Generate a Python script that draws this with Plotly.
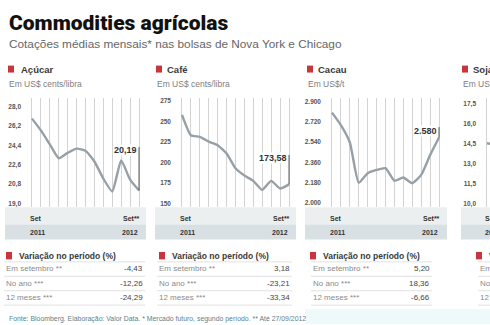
import plotly.graph_objects as go

# ---------------- data ----------------
months = list(range(13))  # Set/2011 ... Set/2012
month_start = "Set"
month_end = "Set**"
year_start = "2011"
year_end = "2012"

acucar = [26.9, 25.8, 24.5, 23.2, 23.7, 24.1, 23.9, 22.9, 21.3, 20.1, 23.0, 21.2, 20.19]
cafe = [258.0, 233.3, 231.3, 225.5, 221.2, 211.2, 193.1, 184.2, 177.8, 166.9, 177.8, 168.5, 173.58]
cacau = [2800, 2689, 2537, 2180, 2265, 2294, 2309, 2198, 2227, 2177, 2250, 2425, 2580]
soja = [14.5, 14.4]

titles = ["Açúcar", "Café", "Cacau", "Soja"]
units = ["Em US$ cents/libra", "Em US$ cents/libra", "Em US$/t", "Em US$/bushel"]

ytick_acucar = [19.0, 20.8, 22.6, 24.4, 26.2, 28.0]
ytick_cafe = [150, 175, 200, 225, 250, 275]
ytick_cacau = [2000, 2180, 2360, 2540, 2720, 2900]
ytick_soja = [10.0, 11.5, 13.0, 14.5, 16.0, 17.5]
ytext_acucar = ["19,0", "20,8", "22,6", "24,4", "26,2", "28,0"]
ytext_cafe = ["150", "175", "200", "225", "250", "275"]
ytext_cacau = ["2.000", "2.180", "2.360", "2.540", "2.720", "2.900"]
ytext_soja = ["10,0", "11,5", "13,0", "14,5", "16,0", "17,5"]

end_labels = ["20,19", "173,58", "2.580"]

var_title = "Variação no período (%)"
var_rows = ["Em setembro **", "No ano ***", "12 meses ***"]
var_acucar = ["-4,43", "-12,26", "-24,29"]
var_cafe = ["3,18", "-23,21", "-33,34"]
var_cacau = ["5,20", "18,36", "-6,66"]

title = "Commodities agrícolas"
subtitle = "Cotações médias mensais* nas bolsas de Nova York e Chicago"
footer = ("Fonte: Bloomberg. Elaboração: Valor Data. * Mercado futuro, segundo período. "
          "** Até 27/09/2012")

# ---------------- layout helpers ----------------
W, H = 490, 325
FONT = "Liberation Sans"
RED = "#c8363d"


def fx(p):
    return p / W


def fy(p):
    return 1 - p / H


series = [acucar, cafe, cacau, soja]
yticks = [ytick_acucar, ytick_cafe, ytick_cacau, ytick_soja]
ytexts = [ytext_acucar, ytext_cafe, ytext_cacau, ytext_soja]
yranges = [[18.675, 28.79], [146.4, 278.0], [1969, 2926], [9.74, 17.87]]
label_y = [24.0, 205.5, 2637]
leader_top = [24.24, 209.2, 2672]

fig = go.Figure()
layout = {}
shapes = []
annotations = []

plot_top, plot_bot = 98, 207
for k in range(4):
    ax = "" if k == 0 else str(k + 1)
    off = [0, 150, 300, 455][k]
    x0, x1 = 26 + off, 145 + off
    xr = [-0.67, 12.67]
    if x1 > W:
        xr = [-0.67, -0.67 + (W - x0) * (13.34 / 119)]
        x1 = W
    fig.add_trace(go.Scatter(
        x=months[:len(series[k])], y=series[k], mode="lines",
        line=dict(color="#96a0a6", width=2.4, shape="spline", smoothing=0.5),
        xaxis="x" + ax, yaxis="y" + ax, hoverinfo="skip", showlegend=False))
    layout["xaxis" + ax] = dict(
        domain=[fx(x0), fx(x1)], range=xr, tickvals=months, showticklabels=False,
        showgrid=True, gridcolor="#d3d3d3", gridwidth=1, zeroline=False,
        showline=False, ticks="", anchor="y" + ax, fixedrange=True)
    layout["yaxis" + ax] = dict(
        domain=[fy(plot_bot), fy(plot_top)], range=yranges[k],
        tickvals=yticks[k], ticktext=ytexts[k], showgrid=False, zeroline=False,
        showline=False, ticks="", ticklabelstandoff=4,
        tickfont=dict(size=6.5, color="#555", family=FONT, weight="bold"),
        anchor="x" + ax, fixedrange=True)

    # red square + panel title + unit
    sq = [8, 156, 307, 462][k]
    shapes.append(dict(type="rect", xref="paper", yref="paper",
                       x0=fx(sq), x1=fx(sq + 6), y0=fy(72), y1=fy(65),
                       fillcolor=RED, line=dict(width=0), layer="above"))
    annotations.append(dict(text=titles[k], xref="paper", yref="paper",
                            x=fx([19, 165, 316, 471][k]), y=fy(68.5),
                            xanchor="left", yanchor="middle", showarrow=False,
                            font=dict(size=9.5, color="#3a3a3a", family=FONT, weight="bold")))
    annotations.append(dict(text=units[k], xref="paper", yref="paper",
                            x=fx(sq - 1), y=fy(84), xanchor="left", yanchor="middle",
                            showarrow=False,
                            font=dict(size=8.5, color="#808080", family=FONT)))

    # bottom bands with month/year
    bx0, bx1 = [(5, 146), (155, 296), (305, 447), (461, 495)][k]
    shapes.append(dict(type="rect", xref="paper", yref="paper",
                       x0=fx(bx0), x1=fx(bx1), y0=fy(225), y1=fy(207.5),
                       fillcolor="#eceff0", line=dict(width=0), layer="below"))
    shapes.append(dict(type="rect", xref="paper", yref="paper",
                       x0=fx(bx0), x1=fx(bx1), y0=fy(240), y1=fy(225),
                       fillcolor="#d8e0e3", line=dict(width=0), layer="below"))
    bfont = dict(size=7, color="#333", family=FONT, weight="bold")
    annotations.append(dict(text=month_start, xref="x" + ax, yref="paper",
                            x=0, xshift=-4, y=fy(218.5), xanchor="left", yanchor="middle",
                            showarrow=False, font=bfont))
    annotations.append(dict(text=year_start, xref="x" + ax, yref="paper",
                            x=0, xshift=-4, y=fy(232.5), xanchor="left", yanchor="middle",
                            showarrow=False, font=bfont))
    if k < 3:
        annotations.append(dict(text=month_end, xref="x" + ax, yref="paper",
                                x=12, xshift=3, y=fy(218.5), xanchor="right",
                                yanchor="middle", showarrow=False, font=bfont))
        annotations.append(dict(text=year_end, xref="x" + ax, yref="paper",
                                x=12, xshift=1, y=fy(232.5), xanchor="right",
                                yanchor="middle", showarrow=False, font=bfont))
        # end value label with leader line
        shapes.append(dict(type="line", xref="x" + ax, yref="y" + ax,
                           x0=12, x1=12, y0=leader_top[k], y1=series[k][-1],
                           line=dict(color="#555", width=1)))
        annotations.append(dict(text=end_labels[k], xref="x" + ax, yref="y" + ax,
                                x=12, xshift=-1, y=label_y[k], xanchor="right",
                                yanchor="middle", showarrow=False, bgcolor="white",
                                borderpad=0,
                                font=dict(size=9, color="#333", family=FONT, weight="bold")))

    # variation table
    tsq = [6, 159, 310, 476][k]
    shapes.append(dict(type="rect", xref="paper", yref="paper",
                       x0=fx(tsq), x1=fx(tsq + 6), y0=fy(260), y1=fy(252.5),
                       fillcolor=RED, line=dict(width=0)))
    annotations.append(dict(text=var_title, xref="paper", yref="paper",
                            x=fx(tsq + 11), y=fy(256.5), xanchor="left", yanchor="middle",
                            showarrow=False,
                            font=dict(size=8.5, color="#3a3a3a", family=FONT, weight="bold")))
    rl = [4, 157, 311, 478][k]
    rr = [145, 292, 432, 520][k]
    vals = [var_acucar, var_cafe, var_cacau, None][k]
    for i, ry in enumerate([269.5, 284, 298.5]):
        annotations.append(dict(text=var_rows[i], xref="paper", yref="paper",
                                x=fx(rl), y=fy(ry), xanchor="left", yanchor="middle",
                                showarrow=False,
                                font=dict(size=8, color="#8a8a8a", family=FONT)))
        if vals is not None:
            annotations.append(dict(text=vals[i], xref="paper", yref="paper",
                                    x=fx(rr), y=fy(ry), xanchor="right", yanchor="middle",
                                    showarrow=False,
                                    font=dict(size=8, color="#444", family=FONT)))
    for ly in [262.5, 277, 291.5, 306]:
        shapes.append(dict(type="line", xref="paper", yref="paper",
                           x0=fx(rl), x1=min(fx(rr), 1.0), y0=fy(ly), y1=fy(ly),
                           line=dict(color="#e2e2e2", width=1)))

# faint tint at bottom right
shapes.append(dict(type="rect", xref="paper", yref="paper",
                   x0=fx(305), x1=1, y0=0, y1=fy(310),
                   fillcolor="#eef9fa", line=dict(width=0), layer="below"))

annotations.append(dict(text=title, xref="paper", yref="paper", x=fx(7), y=fy(22),
                        xanchor="left", yanchor="middle", showarrow=False,
                        font=dict(size=21, color="#111", family="Roboto", weight=900)))
annotations.append(dict(text=subtitle, xref="paper", yref="paper", x=fx(7), y=fy(43.5),
                        xanchor="left", yanchor="middle", showarrow=False,
                        font=dict(size=11.8, color="#666", family=FONT)))
annotations.append(dict(text=footer, xref="paper", yref="paper", x=fx(7), y=fy(319.5),
                        xanchor="left", yanchor="middle", showarrow=False,
                        font=dict(size=6.9, color="#5c7f8c", family=FONT)))

fig.update_layout(
    width=W, height=H, autosize=False,
    margin=dict(l=0, r=0, t=0, b=0, pad=0),
    paper_bgcolor="white", plot_bgcolor="rgba(0,0,0,0)",
    shapes=shapes, annotations=annotations, showlegend=False,
    **layout)

fig.write_html("out.html", config={"displayModeBar": False, "staticPlot": True})
